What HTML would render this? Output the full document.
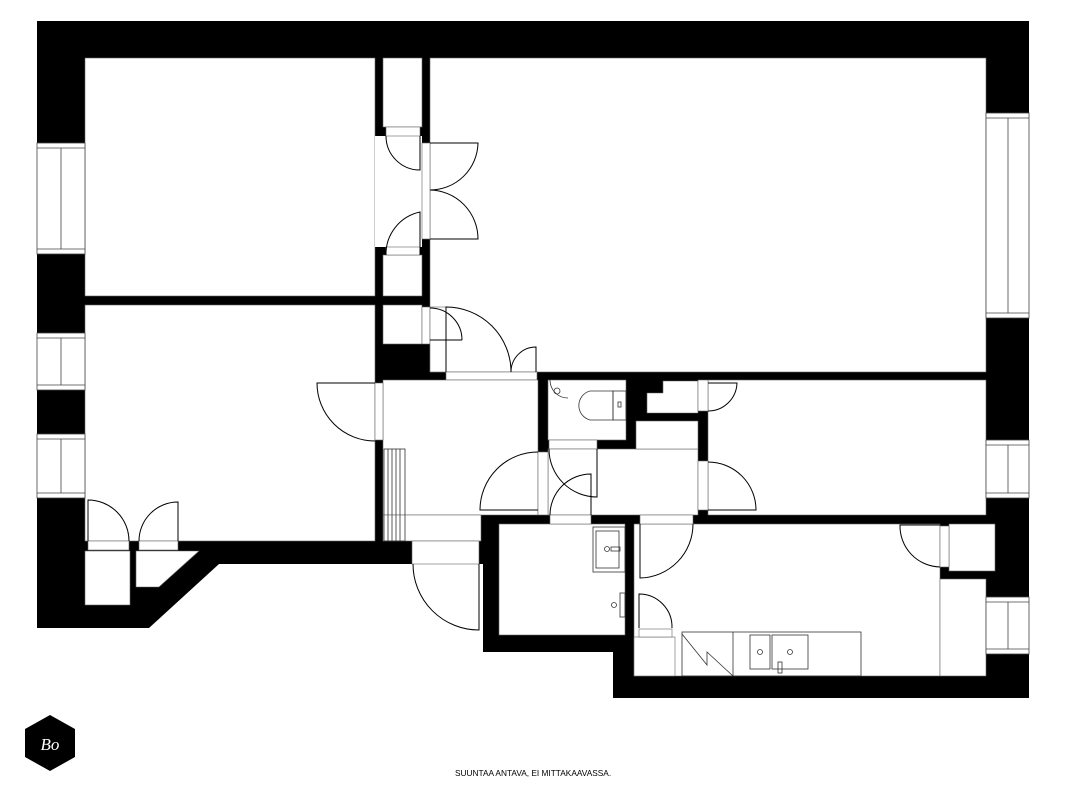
<!DOCTYPE html>
<html><head><meta charset="utf-8"><style>
html,body{margin:0;padding:0;background:#fff;}
svg{display:block;}
</style></head><body>
<svg width="1067" height="800" viewBox="0 0 1067 800" xmlns="http://www.w3.org/2000/svg">
<rect width="1067" height="800" fill="#fff"/>
<polygon points="37,21 1029,21 1029,698 613,698 613,652 483,652 483,564 219,564 149,628 37,628" fill="#000"/>
<g fill="#fff" stroke="#666" stroke-width="0.6">
<rect x="85" y="58" width="290" height="238"/>
<rect x="375" y="136" width="47" height="111" stroke="none"/>
<rect x="85" y="305" width="290" height="236"/>
<rect x="430" y="58" width="556" height="314"/>
<rect x="383" y="58" width="39" height="69"/>
<rect x="383" y="255" width="39" height="41"/>
<rect x="383" y="305" width="39" height="39"/>
<rect x="422" y="143" width="8" height="96"/>
<rect x="422" y="307" width="8" height="37"/>
<rect x="430" y="307" width="16" height="65"/>
<rect x="446" y="372" width="91" height="8"/>
<rect x="383" y="380" width="155" height="135"/>
<rect x="383" y="515" width="98" height="26"/>
<rect x="375" y="383" width="8" height="57"/>
<rect x="412" y="541" width="67" height="23"/>
<rect x="548" y="380" width="78" height="60"/>
<rect x="549" y="440" width="48" height="9"/>
<rect x="548" y="449" width="150" height="66"/>
<rect x="636" y="421" width="62" height="28"/>
<rect x="538" y="452" width="10" height="63"/>
<polygon points="663,381 698,381 698,413 647,413 647,393 663,393"/>
<rect x="708" y="380" width="278" height="135"/>
<rect x="698" y="380" width="10" height="31"/>
<rect x="698" y="461" width="10" height="49"/>
<rect x="499" y="524" width="126" height="111"/>
<rect x="550" y="515" width="41" height="9"/>
<rect x="634" y="524" width="306" height="152"/>
<rect x="940" y="579" width="46" height="97"/>
<rect x="640" y="515" width="53" height="9"/>
<rect x="949" y="524" width="46" height="47"/>
<rect x="940" y="526" width="9" height="41"/>
<rect x="634" y="637" width="41" height="39"/>
<rect x="639" y="629" width="33" height="8"/>
<rect x="386" y="127" width="34" height="9"/>
<rect x="386" y="247" width="34" height="8"/>
<rect x="85" y="551" width="45" height="54"/>
<polygon points="136,551 199,551 159,587 136,587"/>
<rect x="88" y="541" width="41" height="9"/>
<rect x="139" y="541" width="39" height="9"/>
</g>
<g fill="#fff" stroke="#444" stroke-width="0.8">
<rect x="37" y="143" width="48" height="111"/><line x1="37" y1="148" x2="85" y2="148"/><line x1="37" y1="249" x2="85" y2="249"/><line x1="61" y1="148" x2="61" y2="249"/>
<rect x="37" y="333" width="48" height="57"/><line x1="37" y1="338" x2="85" y2="338"/><line x1="37" y1="385" x2="85" y2="385"/><line x1="61" y1="338" x2="61" y2="385"/>
<rect x="37" y="434" width="48" height="64"/><line x1="37" y1="439" x2="85" y2="439"/><line x1="37" y1="493" x2="85" y2="493"/><line x1="61" y1="439" x2="61" y2="493"/>
<rect x="986" y="113" width="43" height="205"/><line x1="986" y1="118" x2="1029" y2="118"/><line x1="986" y1="313" x2="1029" y2="313"/><line x1="1008" y1="118" x2="1008" y2="313"/>
<rect x="986" y="440" width="43" height="58"/><line x1="986" y1="445" x2="1029" y2="445"/><line x1="986" y1="493" x2="1029" y2="493"/><line x1="1008" y1="445" x2="1008" y2="493"/>
<rect x="986" y="597" width="43" height="57"/><line x1="986" y1="602" x2="1029" y2="602"/><line x1="986" y1="649" x2="1029" y2="649"/><line x1="1008" y1="602" x2="1008" y2="649"/>
</g>
<g fill="none" stroke="#000" stroke-width="1">
<path d="M420,136 L420,170 A34,34 0 0 1 386,136"/>
<path d="M420,255 L420,212 A43,43 0 0 0 386,255"/>
<path d="M430,143 L478,143 A48,48 0 0 1 430,190"/>
<path d="M430,239 L478,239 A49,49 0 0 0 430,190"/>
<path d="M446,372 L446,307 A65,65 0 0 1 511,372"/>
<path d="M536,372 L536,347 A25,25 0 0 0 511,372"/>
<path d="M430,340 L462,340 M430,308 A32,32 0 0 1 462,340"/>
<path d="M375,383 L317,383 A58,58 0 0 0 375,441"/>
<path d="M88,541 L88,500 A41,41 0 0 1 129,541"/>
<path d="M178,541 L178,502 A39,39 0 0 0 139,541"/>
<path d="M479,564 L479,630 A66,66 0 0 1 413,564"/>
<path d="M538,510 L480,510 A58,58 0 0 1 538,452"/>
<path d="M597,449 L597,497 A48,48 0 0 1 549,449"/>
<path d="M591,515 L591,474 A41,41 0 0 0 550,515"/>
<path d="M708,383 L737,383 A29,29 0 0 1 708,411"/>
<path d="M708,510 L756,510 A48,48 0 0 0 708,462"/>
<path d="M640,524 L640,578 A54,54 0 0 0 693,524"/>
<path d="M639,628 L639,594 A33,33 0 0 1 672,628"/>
<path d="M940,525 L900,525 A41,41 0 0 0 940,567"/>
</g>
<g fill="none" stroke="#333" stroke-width="0.8">
<rect x="384" y="449" width="21" height="92"/>
<path d="M388,449V541M392,449V541M396,449V541M400,449V541"/>
<path d="M613,391 L590,391 A15,15 0 0 0 590,420 L613,420 Z"/>
<rect x="613" y="391" width="13" height="29"/>
<rect x="618" y="402" width="3" height="5"/>
<path d="M550,380 A18,18 0 0 0 568,398" /><circle cx="557" cy="391" r="3"/>
<rect x="593" y="527" width="32" height="45"/>
<rect x="596" y="531" width="23" height="37"/>
<circle cx="607" cy="549" r="2.5"/><rect x="611" y="547" width="9" height="4"/>
<rect x="620" y="593" width="5" height="24"/><circle cx="614" cy="605" r="2.5"/>
<rect x="682" y="632" width="179" height="44"/>
<line x1="733" y1="632" x2="733" y2="676"/>
<path d="M682,634 L707,665 L707,652 L733,676"/>
<rect x="750" y="635" width="20" height="34"/>
<rect x="772" y="635" width="36" height="34"/>
<circle cx="760" cy="652" r="2.5"/><circle cx="790" cy="652" r="2.5"/>
<rect x="778" y="662" width="4" height="11"/>
</g>
<polygon points="50,715 75,729 75,757 50,771 25,757 25,729" fill="#000"/>
<text x="50" y="750" text-anchor="middle" fill="#fff" font-family="Liberation Serif, serif" font-style="italic" font-size="17">Bo</text>
<text x="455" y="776" font-family="Liberation Sans, sans-serif" font-size="8.3" fill="#000">SUUNTAA ANTAVA, EI MITTAKAAVASSA.</text>
</svg>
</body></html>
